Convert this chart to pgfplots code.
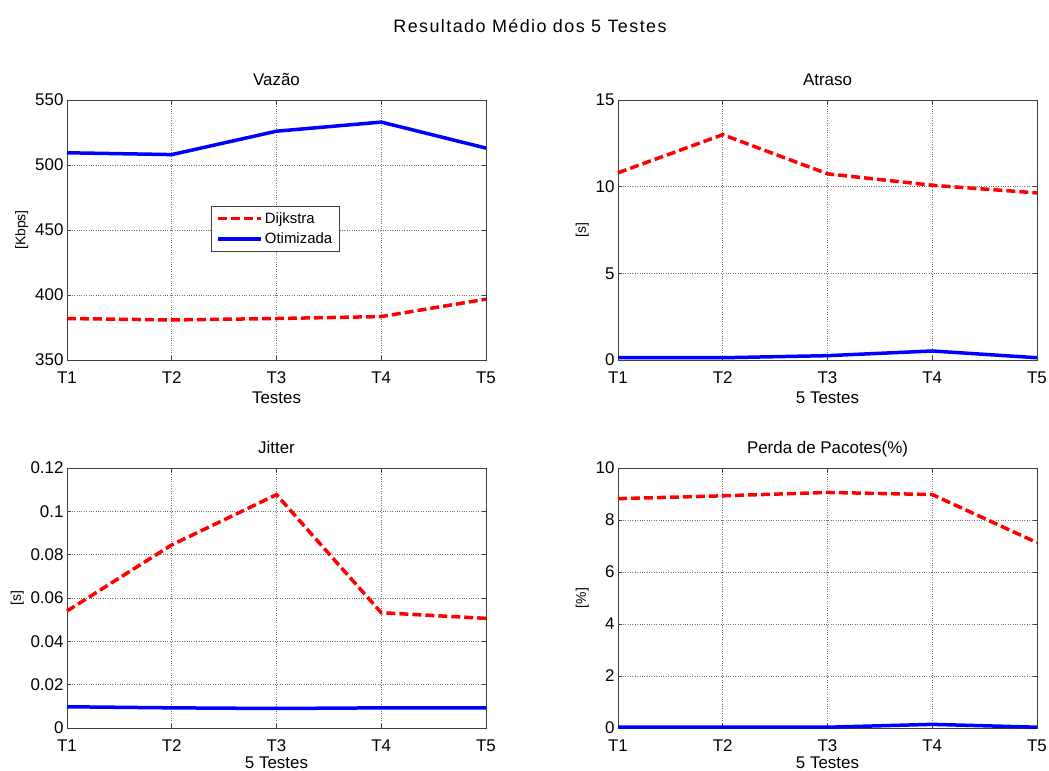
\documentclass[border=0pt]{standalone}
\usepackage{fontspec}
\setmainfont{Liberation Sans}
\newfontfamily\widefont{Liberation Sans}[LetterSpace=8]
\usepackage{pgfplots}
\pgfplotsset{compat=1.18}
\definecolor{mred}{RGB}{255,0,0}
\definecolor{mblue}{RGB}{0,0,255}
\pgfplotsset{
  every axis title/.style={at={(0.5,1)},anchor=base,yshift=14bp},
  mstyle/.style={
    width=419bp, height=260bp, scale only axis,
    xmin=1, xmax=5, xtick={1,2,3,4,5}, xticklabels={T1,T2,T3,T4,T5},
    grid=major, grid style={dotted, black!55, line width=0.7bp},
    tick align=inside, major tick length=4bp, tick pos=both,
    axis line style={black!75, line width=0.8bp},
    every tick/.style={black!75, line width=0.8bp},
    ticklabel style={font=\fontsize{17}{17}\selectfont},
    xticklabel style={yshift=-8bp},
    xlabel style={font=\fontsize{17}{17}\selectfont, yshift=-1bp},
    ylabel style={font=\fontsize{14}{14}\selectfont},
    title style={font=\fontsize{17}{17}\selectfont},
    /pgf/number format/assume math mode=true,
    scaled y ticks=false,
    clip=false,
  },
  botrow/.style={xlabel style={yshift=3bp}},
  dij/.style={mred, line width=3.5bp, dash pattern=on 9bp off 4bp},
  oti/.style={mblue, line width=3.5bp},
}
\begin{document}
\begin{tikzpicture}
\path[use as bounding box] (0bp,0bp) rectangle (1049bp,771bp);
\node[font=\fontsize{18}{18}\widefont] at (530bp,745bp) {Resultado Médio dos 5 Testes};

% Vazão
\begin{axis}[mstyle, at={(67bp,411bp)}, anchor=south west,
  ymin=350, ymax=550, ytick={350,400,450,500,550},
  title={Vazão}, xlabel={Testes}, ylabel={[Kbps]},
  legend style={at={(rel axis cs:0.344,0.592)}, anchor=north west,
    font=\fontsize{15}{15}\selectfont, draw=black!75, line width=0.6bp,
    row sep=4bp, inner xsep=5bp, inner ysep=4bp},
  legend cell align=left,
  legend image code/.code={\draw[#1] (0bp,0bp) -- (43bp,0bp);},
]
\addplot[dij] coordinates {(1,381.9) (2,380.8) (3,381.9) (4,383.4) (5,396.8)};
\addlegendentry{Dijkstra}
\addplot[oti] coordinates {(1,509.4) (2,508.0) (3,526.0) (4,533.0) (5,513.0)};
\addlegendentry{Otimizada}
\end{axis}

% Atraso
\begin{axis}[mstyle, at={(618bp,411bp)}, anchor=south west,
  ymin=0, ymax=15, ytick={0,5,10,15},
  title={Atraso}, xlabel={5 Testes}, ylabel={[s]}]
\addplot[dij] coordinates {(1,10.8) (2,13.0) (3,10.74) (4,10.08) (5,9.64)};
\addplot[oti] coordinates {(1,0.13) (2,0.13) (3,0.25) (4,0.52) (5,0.13)};
\end{axis}

% Jitter
\begin{axis}[mstyle, botrow, at={(67bp,43bp)}, anchor=south west,
  ymin=0, ymax=0.12, ytick={0,0.02,0.04,0.06,0.08,0.1,0.12},
  yticklabels={0,0.02,0.04,0.06,0.08,0.1,0.12},
  title={Jitter}, xlabel={5 Testes}, ylabel={[s]}]
\addplot[dij] coordinates {(1,0.054) (2,0.0845) (3,0.1077) (4,0.0532) (5,0.0506)};
\addplot[oti] coordinates {(1,0.0098) (2,0.0093) (3,0.0090) (4,0.0093) (5,0.0093)};
\end{axis}

% Perda
\begin{axis}[mstyle, botrow, at={(618bp,43bp)}, anchor=south west,
  ymin=0, ymax=10, ytick={0,2,4,6,8,10},
  title={Perda de Pacotes(\%)}, xlabel={5 Testes}, ylabel={[\%]}]
\addplot[dij] coordinates {(1,8.82) (2,8.93) (3,9.06) (4,8.98) (5,7.13)};
\addplot[oti] coordinates {(1,0.03) (2,0.03) (3,0.03) (4,0.14) (5,0.03)};
\end{axis}
\end{tikzpicture}
\end{document}
